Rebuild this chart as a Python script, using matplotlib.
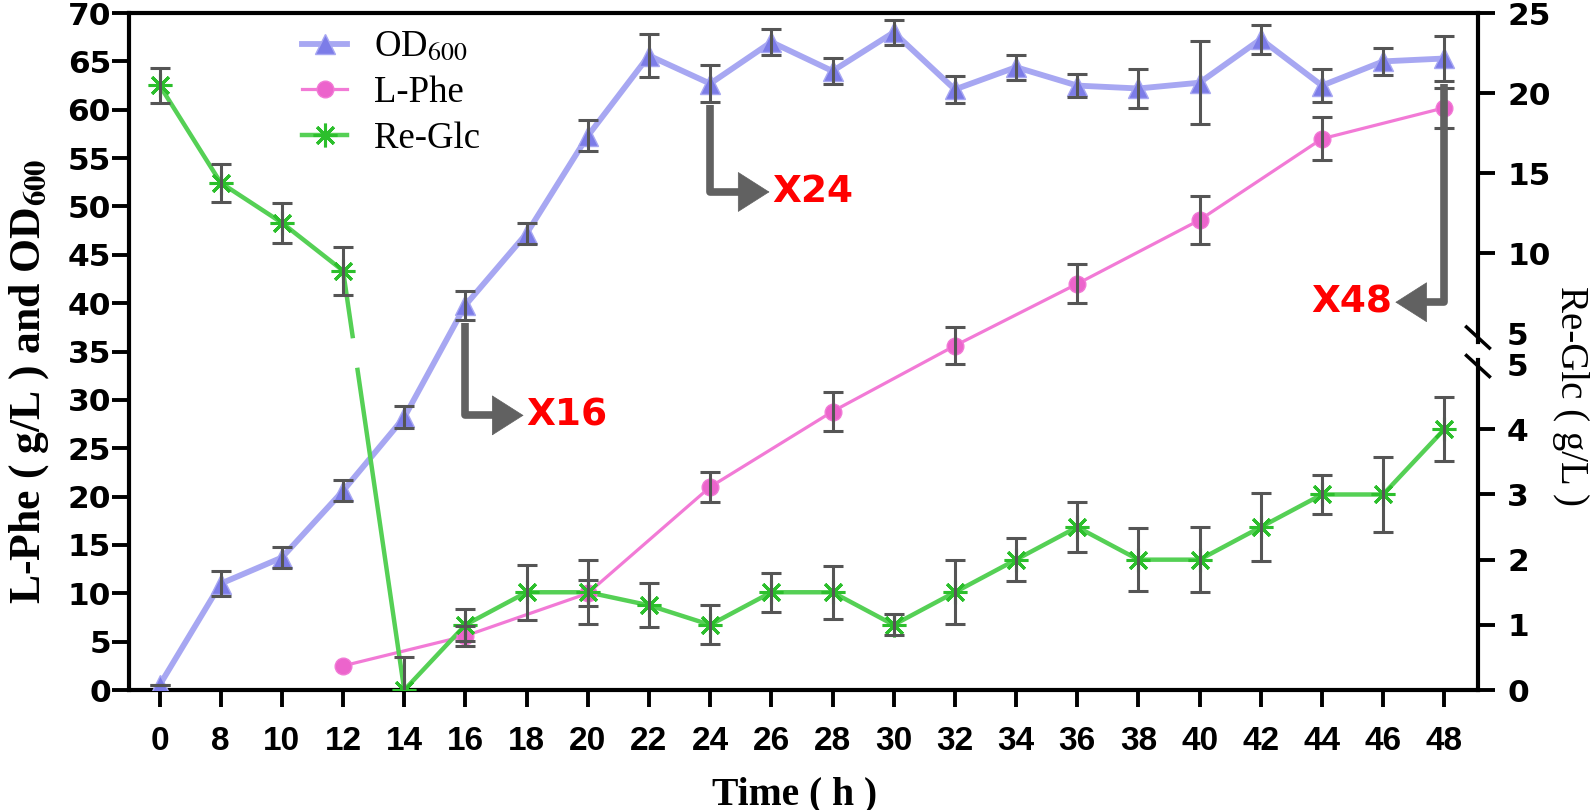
import numpy as np
import matplotlib
matplotlib.use('Agg')
import matplotlib.pyplot as plt
from matplotlib.lines import Line2D
import matplotlib.transforms as mtransforms

# ---------------- data ----------------
hours = [0, 8, 10, 12, 14, 16, 18, 20, 22, 24, 26, 28, 30, 32, 34, 36, 38, 40, 42, 44, 46, 48]
od600 = [0.5, 11.0, 13.7, 20.6, 28.2, 39.8, 47.2, 57.3, 65.6, 62.7, 67.0, 64.0, 68.0, 62.1,
         64.4, 62.5, 62.2, 62.8, 67.3, 62.5, 65.0, 65.3]
od600_err = [0.0, 1.3, 1.05, 1.1, 1.15, 1.5, 1.1, 1.6, 2.2, 1.9, 1.35, 1.35, 1.3, 1.4,
             1.3, 1.2, 2.0, 4.3, 1.5, 1.7, 1.4, 2.3]
phe_hours = [12, 16, 20, 24, 28, 32, 36, 40, 44, 48]
phe = [2.5, 5.6, 10.0, 21.0, 28.8, 35.6, 42.0, 48.6, 57.0, 60.2]
phe_err = [0.0, 1.05, 1.35, 1.55, 2.0, 1.9, 2.0, 2.45, 2.2, 2.1]
glc = [20.5, 14.4, 11.9, 8.9, 0.0, 1.0, 1.5, 1.5, 1.3, 1.0, 1.5, 1.5, 1.0, 1.5,
       2.0, 2.5, 2.0, 2.0, 2.5, 3.0, 3.0, 4.0]
glc_err = [1.09, 1.18, 1.24, 1.5, 0.5, 0.25, 0.42, 0.49, 0.34, 0.3, 0.3, 0.41, 0.16, 0.49,
           0.33, 0.38, 0.48, 0.5, 0.52, 0.3, 0.58, 0.49]
right_low_ticks = [0, 1, 2, 3, 4, 5]
right_up_ticks = [5, 10, 15, 20, 25]
marks = ['X16', 'X24', 'X48']
mark_hours = [16, 24, 48]

# ---------------- style ----------------
plt.rcParams['font.family'] = ['Liberation Sans', 'DejaVu Sans']
plt.rcParams['font.weight'] = 'normal'
plt.rcParams['mathtext.fontset'] = 'stix'

C_OD, C_OD_M = '#a7a7f2', '#7c7ce8'
C_PHE, C_PHE_M = '#f27ad6', '#ec64cc'
C_GLC, C_GLC_M = '#55d055', '#2cbf2c'
C_ERR = '#555555'
C_ARR = '#616161'
TICKFONT = 'DejaVu Sans'

# broken right axis mapping (right value -> left-axis coordinate)
LOW_SLOPE = 6.74
UP_BASE = 36.9
UP_SLOPE = 1.654


def to_left(r):
    r = np.asarray(r, dtype=float)
    return np.where(r <= 5, r * LOW_SLOPE, UP_BASE + (r - 5) * UP_SLOPE)


fig = plt.figure(figsize=(15.94, 8.10), dpi=100)
ax = fig.add_axes([0.0809, 0.1481, 0.8463, 0.8358])

x = np.arange(len(hours))
idx = {h: i for i, h in enumerate(hours)}
xp = np.array([idx[h] for h in phe_hours])

EB = dict(fmt='none', ecolor=C_ERR, elinewidth=2.2, capsize=7.5, capthick=2.2, zorder=6)

# OD600
ax.plot(x, od600, color=C_OD, lw=4.2, zorder=3)
ax.plot(x, od600, ls='none', marker='^', ms=15, color=C_OD_M, mec=C_OD, zorder=4)
ax.errorbar(x, od600, yerr=od600_err, **EB)

# L-Phe
ax.plot(xp, phe, color=C_PHE, lw=2.3, zorder=3)
ax.plot(xp, phe, ls='none', marker='o', ms=12, color=C_PHE_M, mec=C_PHE, zorder=4)
ax.errorbar(xp[1:], phe[1:], yerr=phe_err[1:], **EB)

# Re-Glc (on broken right scale)
glc_arr = np.array(glc)
gl = to_left(glc_arr)
ge = np.array(glc_err)
g_lo = gl - to_left(glc_arr - ge)
g_hi = to_left(glc_arr + ge) - gl
k = int(np.where((glc_arr[:-1] > 5) & (glc_arr[1:] <= 5))[0][0])
y_a, y_b = gl[k], gl[k + 1]
gap_top, gap_bot = UP_BASE - 0.3, 5 * LOW_SLOPE - 0.6
xa = k + (y_a - gap_top) / (y_a - y_b)
xb = k + (y_a - gap_bot) / (y_a - y_b)
ax.plot(list(x[:k + 1]) + [xa], list(gl[:k + 1]) + [gap_top], color=C_GLC, lw=3.2, zorder=3)
ax.plot([xb] + list(x[k + 1:]), [gap_bot] + list(gl[k + 1:]), color=C_GLC, lw=3.2, zorder=3)
ax.plot(x, gl, ls='none', marker=(8, 2, 0), ms=17, mew=2.2, color=C_GLC_M, zorder=4)
ax.errorbar(x, gl, yerr=[g_lo, g_hi], **EB)

# axes
ax.set_xlim(-0.5, 21.55)
ax.set_ylim(0, 70)
ax.set_xticks(x)
ax.set_xticklabels([str(h) for h in hours])
ax.set_yticks(np.arange(0, 71, 5))
ax.tick_params(axis='both', direction='out', length=12, width=2.8)
ax.tick_params(axis='x', labelsize=24, pad=14)
ax.tick_params(axis='y', labelsize=22.5, pad=1, labelfontfamily=TICKFONT)
for lbl in ax.get_xticklabels() + ax.get_yticklabels():
    lbl.set_fontweight('bold')
for s in ['left', 'bottom', 'top']:
    ax.spines[s].set_linewidth(3)
ax.spines['right'].set_visible(False)

ax.set_xlabel('Time ( h )', fontfamily='Liberation Serif', fontweight='bold', fontsize=28.5)
ax.xaxis.set_label_coords(0.4937, -0.127)
ax.set_ylabel(r'L-Phe ( g/L ) and OD$_{\mathbf{600}}$', fontfamily='Liberation Serif',
              fontweight='bold', fontsize=31.5)
ax.yaxis.set_label_coords(-0.0575, 0.456)

# right axis
ax2 = ax.twinx()
ax2.set_ylim(0, 70)
rt_pos = list(to_left(right_low_ticks[:-1])) + [5 * LOW_SLOPE, UP_BASE] + list(to_left(right_up_ticks[1:]))
rt_lab = [str(v) for v in right_low_ticks] + [str(v) for v in right_up_ticks]
ax2.set_yticks(rt_pos)
ax2.set_yticklabels(rt_lab)
ax2.tick_params(axis='y', direction='out', length=12, width=2.8, labelsize=22.5, pad=9,
                labelfontfamily=TICKFONT)
for lbl in ax2.get_yticklabels():
    lbl.set_fontweight('bold')
for t, lab in zip(ax2.yaxis.get_major_ticks(), rt_lab):
    if lab == '5':
        t.tick2line.set_visible(False)
for s in ['left', 'bottom', 'top']:
    ax2.spines[s].set_visible(False)
ax2.spines['right'].set_linewidth(3)
ax2.spines['right'].set_bounds(0, 34.1)
btr = mtransforms.blended_transform_factory(ax2.transAxes, ax2.transData)
ax2.plot([1, 1], [36.0, 70], transform=btr, clip_on=False, color='black', lw=3,
         solid_capstyle='projecting')
dx, dy = 0.0085, 0.0155
for yc in [36.45 / 70, 33.5 / 70]:
    ax2.plot([1 - dx, 1 + dx], [yc + dy, yc - dy], transform=ax2.transAxes, clip_on=False,
             color='black', lw=2.5)
fig.text(0.985, 0.511, 'Re-Glc ( g/L )', rotation=270, ha='center', va='center',
         fontfamily='Liberation Serif', fontweight='normal', fontsize=28)

# annotations (L-shaped arrows)
levels = [28.4, 51.5, 40.1]
ends = [5.95, 9.97, 20.2]
for m, h, lev, xe in zip(marks, mark_hours, levels, ends):
    i = idx[h]
    ystart = od600[i] - od600_err[i] - 0.3
    direction = 1 if xe > i else -1
    base = xe - direction * 0.4
    ax.plot([i, i, base], [ystart, lev, lev], color=C_ARR, lw=5.5, solid_joinstyle='round',
            solid_capstyle='butt', zorder=7)
    ax.annotate('', xy=(xe, lev), xytext=(base + direction * 0.01, lev),
                arrowprops=dict(arrowstyle='-|>,head_length=1.1,head_width=0.7',
                                color=C_ARR, lw=0.5, mutation_scale=20,
                                shrinkA=0, shrinkB=0), zorder=7)
    ax.text(xe + direction * 0.05, lev, m, color='#ff0000', fontsize=27, fontweight='bold',
            fontfamily=TICKFONT, ha='left' if direction > 0 else 'right', va='center',
            zorder=8)

# legend
handles = [
    Line2D([], [], color=C_OD, lw=4.2, marker='^', ms=15, mfc=C_OD_M, mec=C_OD),
    Line2D([], [], color=C_PHE, lw=2.3, marker='o', ms=12, mfc=C_PHE_M, mec=C_PHE),
    Line2D([], [], color=C_GLC, lw=3.2, marker=(8, 2, 0), ms=17, mew=2.2, mec=C_GLC_M),
]
ax.legend(handles, [r'OD$_{\mathrm{600}}$', 'L-Phe', 'Re-Glc'], loc='upper left',
          bbox_to_anchor=(0.104, 1.024), frameon=False, handlelength=1.22,
          handletextpad=0.72, labelspacing=0.3,
          prop=dict(family='Liberation Serif', weight='normal', size=26.5))

fig.savefig('out.png', dpi=100)
